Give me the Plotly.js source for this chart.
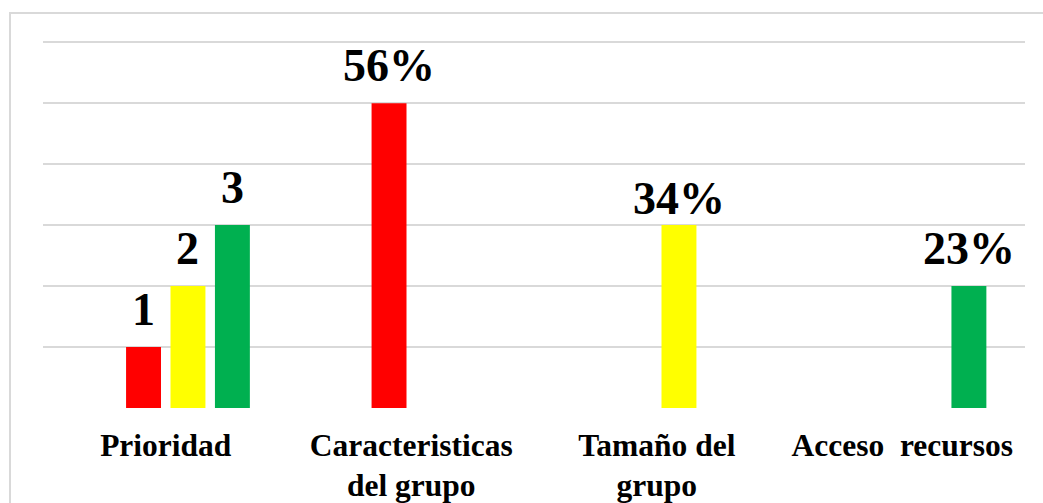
<!DOCTYPE html>
<html>
<head>
<meta charset="utf-8">
<script src="https://cdn.plot.ly/plotly-3.0.1.min.js"></script>
<style>html,body{margin:0;padding:0;background:#fff;overflow:hidden;}</style>
</head>
<body>
<div id="chart" style="width:1043px;height:503px;"></div>
<script>
const categories = ["Prioridad", "Caracteristicas<br>del grupo", "Tamaño del<br>grupo", "Acceso\u00a0\u00a0recursos"];
const blankValues = [0, 0, 0, 0];
const blankLabels = ["", "", "", ""];
const redValues = [1, 5, null, null];
const redLabels = ["1", "56%", "", ""];
const yellowValues = [2, null, 3, null];
const yellowLabels = ["2", "", "34%", ""];
const greenValues = [3, null, null, 2];
const greenLabels = ["3", "", "", "23%"];

const seriesValues = [blankValues, redValues, yellowValues, greenValues];
const seriesLabels = [blankLabels, redLabels, yellowLabels, greenLabels];
const seriesColors = ["rgba(0,0,0,0)", "#ff0000", "#ffff00", "#00b050"];

const W = 1043, H = 503;
const margin = {l: 43, r: 18, t: 41, b: 95};
const bargap = 0.276, bargroupgap = 0.214;
const serif = "Liberation Serif, Times New Roman, serif";
// the "34%" label sits closer to its bar than the others
const labelGap = {default: 10, "34%": -1};

const data = seriesValues.map((vals, s) => ({
  type: "bar", x: categories, y: vals,
  marker: {color: seriesColors[s], line: {width: 0}},
  hoverinfo: "skip", showlegend: false
}));

// value labels: anchored at each bar's value, shifted to its group slot
const plotW = W - margin.l - margin.r;
const slot = (plotW / categories.length) * (1 - bargap) / seriesValues.length;
const annotations = [];
seriesValues.forEach((vals, s) => {
  vals.forEach((v, i) => {
    const t = seriesLabels[s][i];
    if (v == null || !t) return;
    annotations.push({
      x: categories[i], y: v, xref: "x", yref: "y",
      text: t, showarrow: false, yanchor: "bottom", xanchor: "center",
      xshift: (s - (seriesValues.length - 1) / 2) * slot,
      yshift: (t in labelGap) ? labelGap[t] : labelGap.default,
      font: {family: serif, size: 46, color: "#000", weight: "bold"}
    });
  });
});

const layout = {
  width: W, height: H,
  margin: margin,
  paper_bgcolor: "#fff", plot_bgcolor: "#fff",
  barmode: "group", bargap: bargap, bargroupgap: bargroupgap,
  font: {family: serif, color: "#000"},
  xaxis: {
    type: "category", showgrid: false, showline: false, ticks: "", zeroline: false,
    ticklabelstandoff: 15,
    tickfont: {family: serif, size: 31.5, color: "#000", weight: "bold"}
  },
  yaxis: {
    range: [0, 6.02], dtick: 1, tick0: 0, showticklabels: false, ticks: "",
    showgrid: true, gridcolor: "#d9d9d9", gridwidth: 1.5, zeroline: false, showline: false
  },
  annotations: annotations,
  shapes: [{
    type: "rect", xref: "paper", yref: "paper",
    x0: (10 - margin.l) / plotW, x1: 1.2, y0: -0.5, y1: (H - margin.b - 13) / (H - margin.t - margin.b),
    line: {color: "#d9d9d9", width: 2}, fillcolor: "rgba(0,0,0,0)", layer: "below"
  }]
};

Plotly.newPlot("chart", data, layout, {staticPlot: true, displayModeBar: false});
</script>
</body>
</html>
